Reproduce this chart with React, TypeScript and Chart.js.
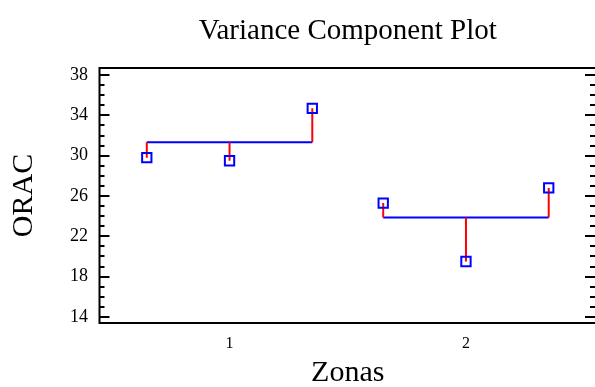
import React, { useEffect, useRef } from "react";
import { Chart, registerables } from "chart.js";

Chart.register(...registerables);

// Zone positions on the x axis and the observations within each zone
const zones = [1, 2];
const zoneLabels = ["1", "2"];
const zone1Values = [29.8, 29.5, 34.7];
const zone2Values = [25.3, 19.5, 26.8];
const withinOffsets = [-0.35, 0, 0.35];

// Axis ranges and tick values
const yMin = 13.4;
const yMax = 38.7;
const yMajorTicks = [14, 18, 22, 26, 30, 34, 38];
const xMin = 0.45;
const xMax = 2.55;

const SERIF = "'Liberation Serif', 'Times New Roman', serif";

const zoneValues = [zone1Values, zone2Values];
const mean = (a: number[]) => a.reduce((s, v) => s + v, 0) / a.length;

function buildData() {
  const points: { x: number; y: number | null }[] = [];
  const residuals: { x: number; y: number | null }[] = [];
  const means: { x: number; y: number | null }[] = [];
  zones.forEach((z, zi) => {
    const vals = zoneValues[zi];
    const m = mean(vals);
    means.push({ x: z + withinOffsets[0], y: m });
    means.push({ x: z + withinOffsets[withinOffsets.length - 1], y: m });
    means.push({ x: z + 0.5, y: null });
    vals.forEach((v, i) => {
      const x = z + withinOffsets[i];
      points.push({ x, y: v });
      residuals.push({ x, y: m });
      residuals.push({ x, y: v });
      residuals.push({ x, y: null });
    });
  });
  return { points, residuals, means };
}

// Frame around the plot area with inward ticks on both vertical sides
const framePlugin = {
  id: "frameTicks",
  afterDraw(chart: any) {
    const { ctx, chartArea } = chart;
    const y = chart.scales.y;
    const { left, right, top, bottom } = chartArea;
    ctx.save();
    ctx.strokeStyle = "#000";
    ctx.lineWidth = 2;
    ctx.strokeRect(left, top, right - left, bottom - top);
    ctx.beginPath();
    for (let v = Math.ceil(yMin); v <= Math.floor(yMax); v++) {
      const py = Math.round(y.getPixelForValue(v));
      const major = yMajorTicks.includes(v);
      const len = major ? 10 : 5;
      ctx.moveTo(left, py);
      ctx.lineTo(left + len, py);
      ctx.moveTo(right, py);
      ctx.lineTo(right - len - 1, py);
    }
    ctx.stroke();
    ctx.restore();
  },
};

export default function App() {
  const ref = useRef<HTMLCanvasElement | null>(null);

  useEffect(() => {
    if (!ref.current) return;
    const { points, residuals, means } = buildData();
    const chart = new Chart(ref.current, {
      type: "scatter",
      data: {
        datasets: [
          {
            label: "obs",
            data: points,
            showLine: false,
            pointStyle: "rect",
            pointRadius: 6.6,
            pointBorderWidth: 2,
            pointBorderColor: "#0000ff",
            pointBackgroundColor: "rgba(0,0,0,0)",
          },
          {
            label: "residual",
            data: residuals,
            showLine: true,
            spanGaps: false,
            borderColor: "#ff0000",
            borderWidth: 2,
            pointRadius: 0,
          },
          {
            label: "mean",
            data: means,
            showLine: true,
            spanGaps: false,
            borderColor: "#0000ff",
            borderWidth: 2,
            pointRadius: 0,
          },
        ],
      },
      options: {
        animation: false,
        responsive: false,
        layout: { autoPadding: false, padding: { left: 0, right: 1, top: 0, bottom: 0 } },
        plugins: {
          legend: { display: false },
          tooltip: { enabled: false },
          title: {
            display: true,
            text: "Variance Component Plot",
            fullSize: false,
            color: "#000",
            font: { family: SERIF, size: 29, weight: "normal", lineHeight: 1.2 },
            padding: { top: 14, bottom: 19.2 },
          },
        },
        scales: {
          x: {
            type: "linear",
            min: xMin,
            max: xMax,
            grid: { display: false, drawTicks: false },
            border: { display: false },
            afterBuildTicks: (s: any) => {
              s.ticks = zones.map((v) => ({ value: v }));
            },
            afterFit: (s: any) => {
              s.height = 64;
            },
            ticks: {
              color: "#000",
              padding: 11,
              font: { family: SERIF, size: 16 },
              callback: (v: any) => zoneLabels[zones.indexOf(Number(v))] ?? "",
            },
            title: {
              display: true,
              text: "Zonas",
              color: "#000",
              font: { family: SERIF, size: 30, lineHeight: 0.9 },
              padding: 0,
            },
          },
          y: {
            type: "linear",
            min: yMin,
            max: yMax,
            grid: { display: false, drawTicks: false },
            border: { display: false },
            afterBuildTicks: (s: any) => {
              s.ticks = yMajorTicks.map((v) => ({ value: v }));
            },
            afterFit: (s: any) => {
              s.width = 99.5;
            },
            ticks: {
              color: "#000",
              padding: 11.5,
              font: { family: SERIF, size: 18 },
            },
            title: {
              display: true,
              text: "ORAC",
              color: "#000",
              font: { family: SERIF, size: 30, lineHeight: 1.2 },
              padding: { top: 6, bottom: 0 },
            },
          },
        },
      },
      plugins: [framePlugin],
    });
    return () => chart.destroy();
  }, []);

  return (
    <div
      style={{
        position: "fixed",
        left: 0,
        top: 0,
        width: 595,
        height: 387,
        overflow: "hidden",
        background: "#fff",
      }}
    >
      <canvas ref={ref} width={597} height={387} style={{ display: "block" }} />
    </div>
  );
}
